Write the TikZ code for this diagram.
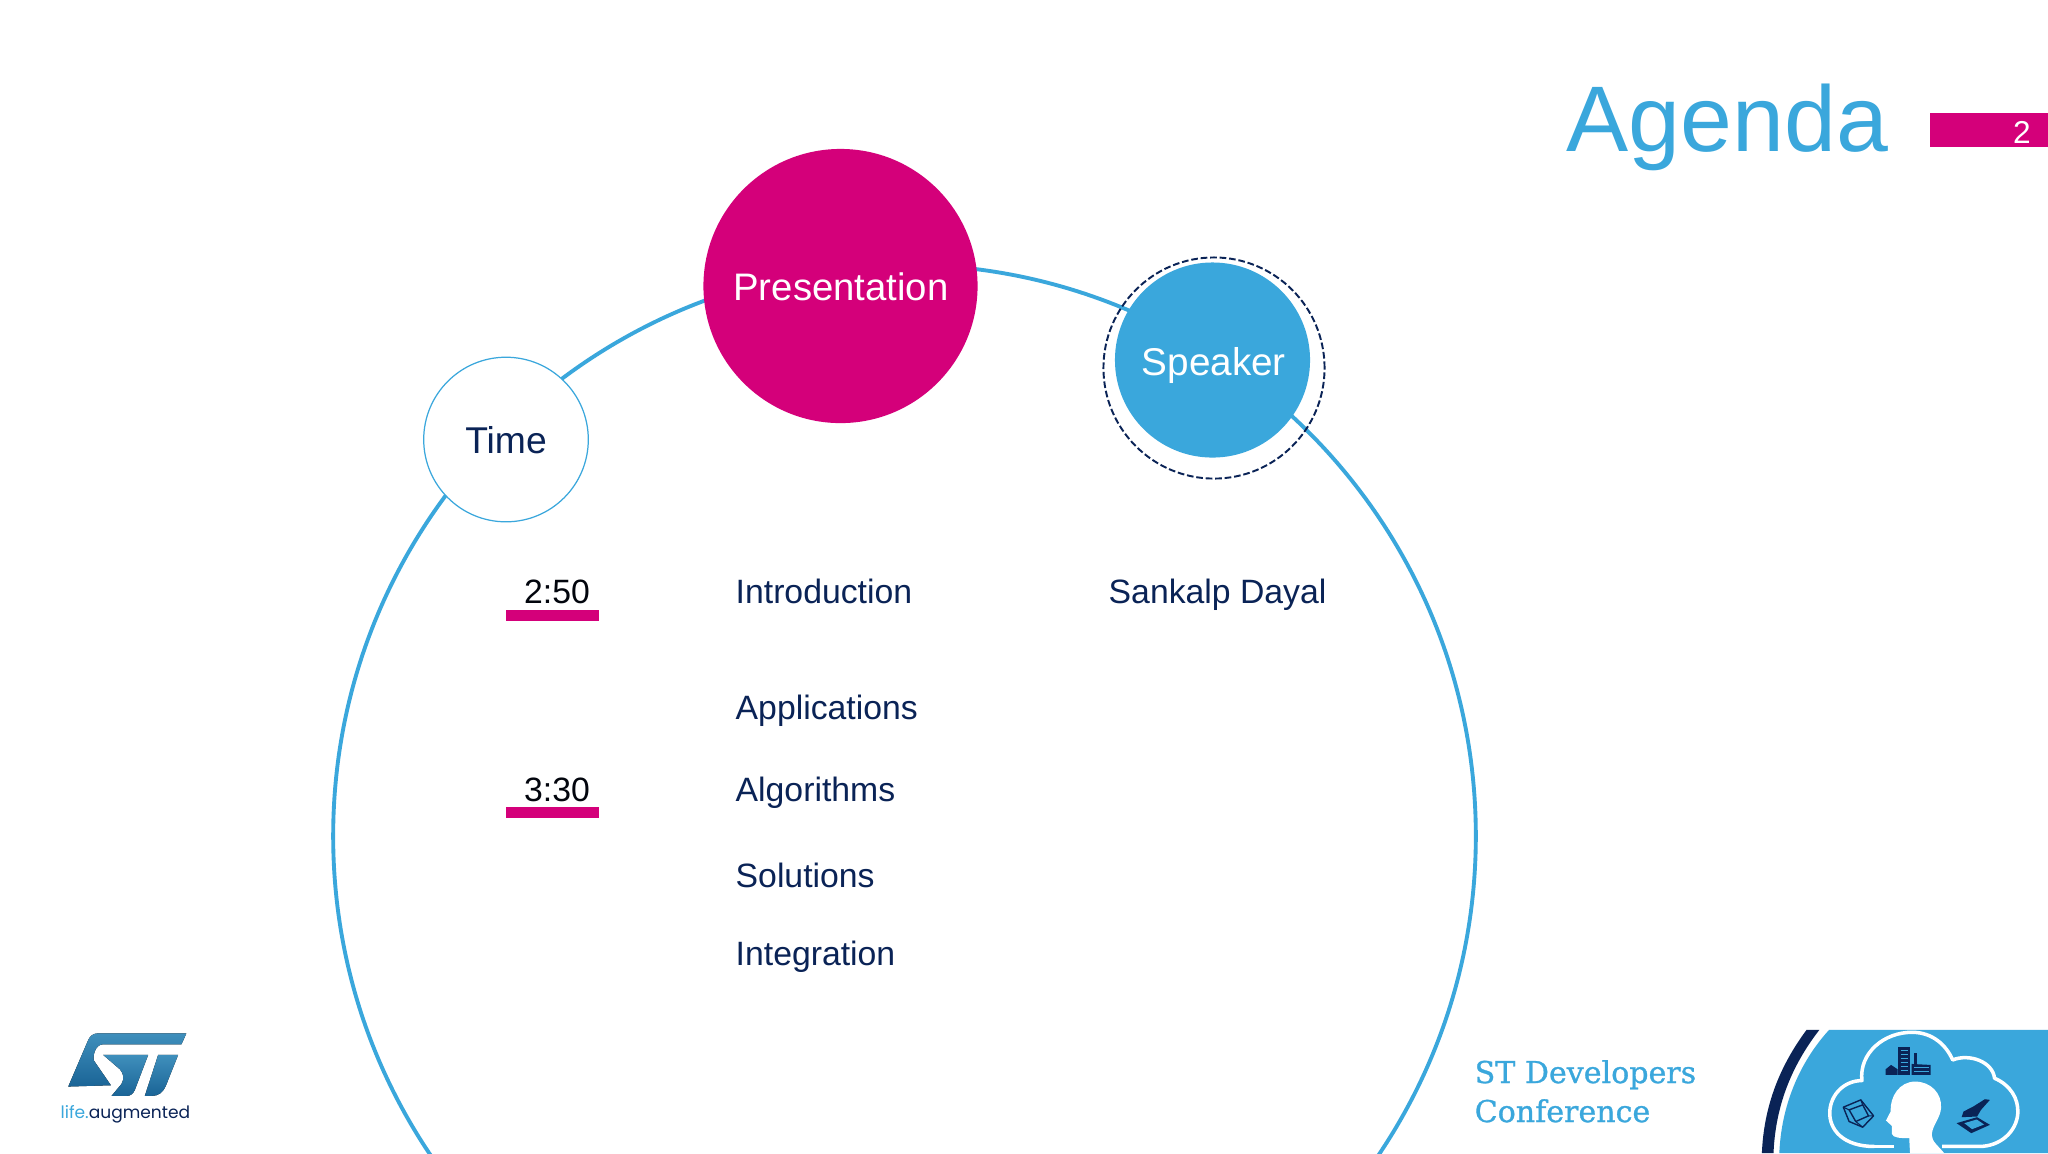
\documentclass[tikz,border=0pt]{standalone}
\usepackage{fontspec}
\setmainfont{Liberation Sans}
\newfontfamily\slabfont[FakeBold=1]{DejaVu Serif}
\newfontfamily\logofont{Poppins}
\definecolor{stblue}{HTML}{3AA7DC}
\definecolor{stpink}{HTML}{D4007A}
\definecolor{stnavy}{HTML}{0A2356}
\tikzset{
  ringline/.style={draw=stblue,line width=1.1pt},
  bigdisc/.style={circle,inner sep=0pt,text=white},
  itemtext/.style={anchor=base west,inner sep=0pt,text=stnavy,font=\fontsize{9.6}{12}\selectfont},
  timetext/.style={anchor=base,inner sep=0pt,text=black!85!stnavy,font=\fontsize{9.6}{12}\selectfont},
  timebar/.style={fill=stpink,draw=none},
  logoshape/.style={top color=stlogotop,bottom color=stlogobot,draw=none},
  slabtext/.style={anchor=base west,inner sep=0pt,text=stblue,font=\slabfont\fontsize{8.55}{10}\selectfont}
}
\definecolor{stlogotop}{HTML}{3F8FBC}
\definecolor{stlogobot}{HTML}{1A6496}
\begin{document}
\begin{tikzpicture}[x=0.01cm,y=-0.01cm]
\useasboundingbox (0,0) rectangle (2048,1153);
\clip (0,0) rectangle (2048,1153);
\fill[white] (0,0) rectangle (2048,1153);
\node (ring) at (904.5,836)[circle,ringline,inner sep=0pt,minimum size=11.42cm] {};
\node (time) at (506,439.5)[bigdisc,fill=white,draw=stblue,line width=0.35pt,minimum size=1.645cm,text=stnavy,text height=8.2pt,font=\fontsize{10.6}{13}\selectfont] {Time};
\node (presentation) at (840.5,286)[bigdisc,fill=stpink,minimum size=2.74cm,text height=8.6pt,font=\fontsize{10.9}{13}\selectfont] {\hspace*{0.3pt}Presentation};
\node (speakerring) at (1214,368)[circle,inner sep=0pt,draw=stnavy,line width=0.55pt,dash pattern=on 1.9pt off 0.8pt,minimum size=2.21cm] {};
\node (speaker) at (1212.5,360)[bigdisc,fill=stblue,minimum size=1.95cm,text height=11pt,font=\fontsize{11}{13}\selectfont] {\hspace*{0.7pt}Speaker};
\node (title) at (1566,151)[anchor=base west,inner sep=0pt,text=stblue,font=\fontsize{26.5}{30}\selectfont] {Agenda};
\fill[stpink] (1930,113) rectangle (2048,147);
\node (pagenum) at (2022,143)[anchor=base,inner sep=0pt,text=white,font=\fontsize{9}{11}\selectfont] {2};
\node (tone) at (557,603)[timetext] {2:50};
\fill[timebar] (506,610) rectangle (599,621);
\node (ttwo) at (557,801)[timetext] {3:30};
\fill[timebar] (506,807) rectangle (599,818);
\node (intro) at (735,603)[itemtext] {Introduction};
\node (apps) at (735,719)[itemtext] {Applications};
\node (algos) at (735,801)[itemtext] {Algorithms};
\node (solutions) at (735,887)[itemtext] {Solutions};
\node (integration) at (735,965)[itemtext] {Integration};
\node (name) at (1108,603)[itemtext] {Sankalp Dayal};
\node (stdev) at (1474,1083)[slabtext] {ST Developers};
\node (conf) at (1474,1122)[slabtext] {Conference};
\begin{scope}[shift={(40,1010)},x=0.00333cm,y=-0.00333cm]
\fill[logoshape] (440,70) -- (175,70) .. controls (160,70) and (150,78) .. (145,90) -- (85,230) -- (213,226) -- (162,152) .. controls (158,140) and (165,103) .. (190,103) -- (425,103) -- cycle;
\fill[logoshape] (190,135) -- (325,135) -- (285,240) .. controls (280,252) and (272,258) .. (260,258) -- (215,258) -- (245,222) .. controls (255,205) and (250,190) .. (240,178) -- cycle;
\fill[logoshape] (355,135) -- (415,135) -- (378,228) .. controls (368,250) and (355,258) .. (335,258) -- (315,258) -- cycle;
\node (life) at (60,325)[anchor=base west,inner sep=0pt,text=stblue,font=\logofont\fontsize{4.85}{6}\selectfont] {life.\textcolor{stnavy}{augmented}};
\end{scope}
\begin{scope}[shift={(1440,1010)},x=0.003878cm,y=-0.00333cm]
\fill[stnavy] (945,60) -- (978,60) .. controls (905,170) and (865,290) .. (860,430) -- (830,430) .. controls (835,290) and (875,170) .. (945,60) -- cycle;
\fill[stblue] (1003,60) -- (1570,60) -- (1570,430) -- (875,430) .. controls (880,290) and (925,160) .. (1003,60) -- cycle;
\draw[white,line width=1pt,line join=round] (1120,410) .. controls (1040,410) and (1003,360) .. (1005,305) .. controls (1008,250) and (1045,212) .. (1088,212) .. controls (1080,130) and (1145,65) .. (1220,67) .. controls (1270,68) and (1305,105) .. (1322,150) .. controls (1365,130) and (1425,155) .. (1430,205) .. controls (1470,225) and (1492,265) .. (1490,310) .. controls (1487,365) and (1445,410) .. (1390,410) -- (1295,410);
\draw[white,line width=1pt] (1120,410) -- (1170,410);
\fill[white] (1225,215) .. controls (1265,215) and (1295,250) .. (1292,295) .. controls (1290,325) and (1270,345) .. (1268,375) .. controls (1268,395) and (1285,408) .. (1300,430) -- (1212,430) -- (1210,385) .. controls (1190,385) and (1168,385) .. (1165,372) -- (1165,348) -- (1150,332) -- (1162,305) .. controls (1160,260) and (1185,215) .. (1225,215) -- cycle;
\fill[stnavy] (1182,112) rectangle (1213,195);
\fill[stnavy] (1222,130) rectangle (1231,165);
\fill[stnavy] (1216,195) -- (1216,162) -- (1265,165) -- (1265,195) -- cycle;
\fill[stnavy] (1149,195) -- (1149,178) -- (1163,165) -- (1180,178) -- (1180,195) -- cycle;
\foreach \yy in {122,134,146,158,170,182} {
  \draw[stblue,line width=0.25pt] (1188,\yy) -- (1208,\yy);
}
\foreach \yy in {173,184} {
  \draw[stblue,line width=0.25pt] (1222,\yy) -- (1260,\yy);
}
\draw[stnavy,line width=0.4pt,line join=round] (1040,292) -- (1085,270) -- (1118,318) -- (1090,352) -- (1055,335) -- cycle;
\draw[stnavy,line width=0.4pt,line join=round] (1055,300) -- (1090,285) -- (1105,318) -- (1072,335) -- cycle;
\draw[stnavy,line width=0.3pt] (1040,292) -- (1055,300) (1085,270) -- (1090,285) (1118,318) -- (1105,318) (1090,352) -- (1072,335);
\fill[stnavy,line join=round] (1418,270) -- (1405,268) -- (1375,290) -- (1350,305) -- (1345,322) -- (1385,320) -- (1395,300) -- cycle;
\fill[stnavy] (1332,340) -- (1385,322) -- (1418,345) -- (1370,370) -- cycle;
\fill[stblue] (1352,340) -- (1384,329) -- (1403,344) -- (1372,358) -- cycle;
\end{scope}
\end{tikzpicture}
\end{document}
